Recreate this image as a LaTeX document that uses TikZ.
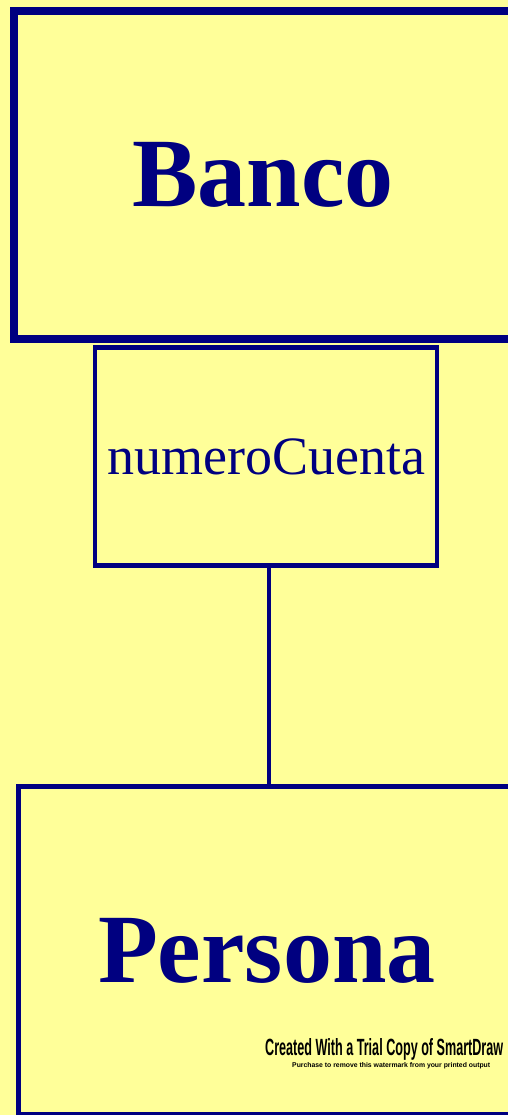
\documentclass[tikz,border=0pt]{standalone}
\usepackage{fontspec}
\setmainfont{Liberation Serif}
\newfontfamily\wmfont{Liberation Sans}
\definecolor{bg}{HTML}{FFFF99}
\definecolor{navy}{HTML}{000080}
\begin{document}
\begin{tikzpicture}[x=1pt,y=-1pt,
  box/.style={draw=navy,fill=bg,rectangle,inner sep=0pt,outer sep=0pt,text=navy},
  link/.style={draw=navy,line width=4pt}]
\fill[bg] (0,0) rectangle (508,1115);
\useasboundingbox (0,0) rectangle (508,1115);
\begin{scope}
\clip (0,0) rectangle (508,1115);
\node[box,line width=8pt,minimum width=498pt,minimum height=328pt,
  font=\fontsize{98}{98}\selectfont\bfseries] (banco) at (263,175) {Banco};
\node[box,line width=4.5pt,minimum width=342pt,minimum height=218pt,
  font=\fontsize{54}{54}\selectfont] (cuenta) at (266,456.5) {numeroCuenta};
\node[box,line width=5pt,minimum width=496.5pt,minimum height=328pt,
  font=\fontsize{98}{98}\selectfont\bfseries] (persona) at (266.75,950.5) {Persona};
\draw[link] (cuenta.south -| 269,0) -- (persona.north -| 269,0);
\node[anchor=north west,inner sep=0pt] (wm1) at (265,1038)
  {\resizebox{238pt}{17pt}{\wmfont\bfseries Created With a Trial Copy of SmartDraw}};
\node[anchor=north west,inner sep=0pt] (wm2) at (292,1062)
  {\resizebox{198pt}{5pt}{\wmfont\bfseries Purchase to remove this watermark from your printed output}};
\end{scope}
\end{tikzpicture}
\end{document}
